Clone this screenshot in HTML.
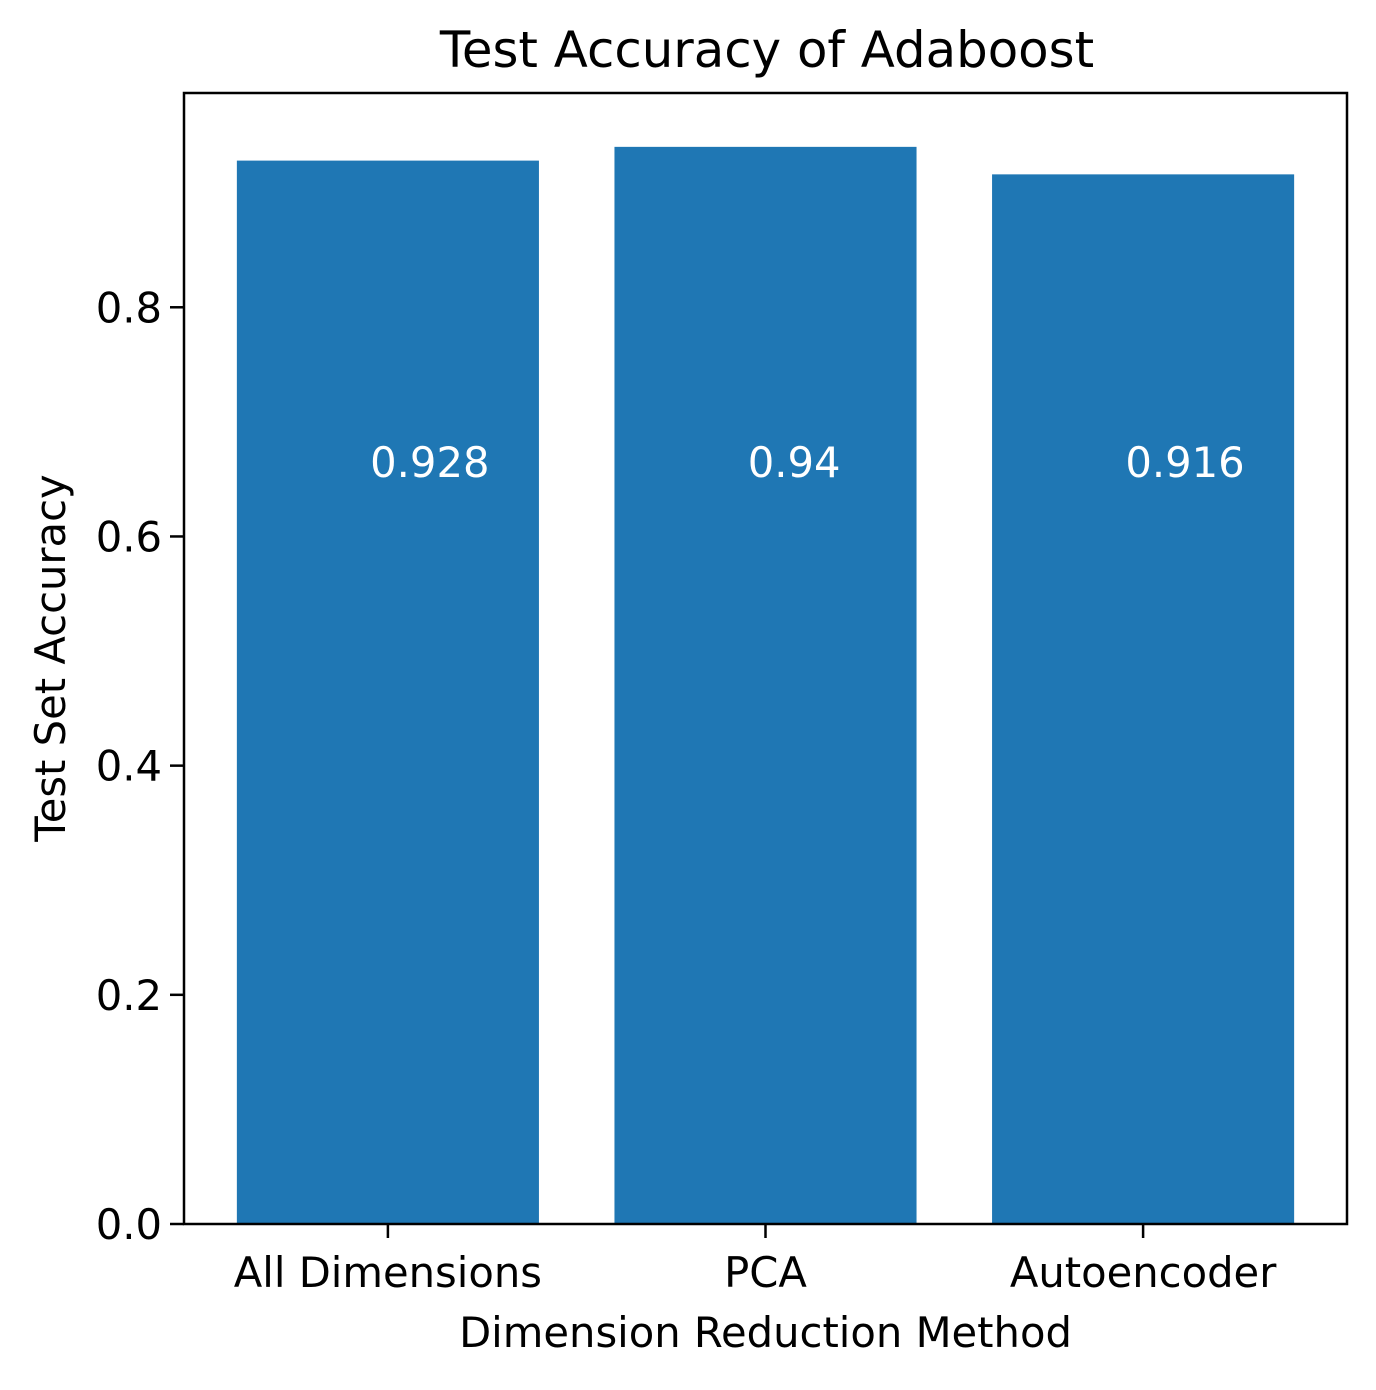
<!DOCTYPE html>
<html><head><meta charset="utf-8"><style>
html,body{margin:0;padding:0;background:#fff;}
svg text{font-family:"DejaVu Sans","Liberation Sans",sans-serif;}
</style></head><body>
<svg id="chart" width="1376" height="1385" viewBox="0 0 1376 1385" xmlns="http://www.w3.org/2000/svg">
<rect width="1376" height="1385" fill="#fff"/>
<g id="bars"></g><g id="labels"></g><g id="axes"></g>
<text x="767" y="67" font-size="49.8" text-anchor="middle" fill="#000">Test Accuracy of Adaboost</text>
<text x="765.5" y="1347" font-size="41.7" text-anchor="middle" fill="#000">Dimension Reduction Method</text>
<text x="0" y="0" font-size="41.7" text-anchor="middle" fill="#000" transform="translate(65,658) rotate(-90)">Test Set Accuracy</text>
</svg>
<script>
const categories = ["All Dimensions", "PCA", "Autoencoder"];
const values = [0.928, 0.94, 0.916];
const valueLabels = ["0.928", "0.94", "0.916"];
const labelY = [0.665, 0.665, 0.665];
const yTicks = [0, 0.2, 0.4, 0.6, 0.8];
const yTickLabels = ["0.0", "0.2", "0.4", "0.6", "0.8"];

const L=184,R=1347,T=93,B=1224;
const xMin=-0.54,xMax=categories.length-1+0.54;
const yMax=Math.max(...values)*1.05;
const xs=v=>L+(v-xMin)/(xMax-xMin)*(R-L);
const ys=v=>B-v/yMax*(B-T);
const NS="http://www.w3.org/2000/svg";
function mk(tag,attrs,parent,text){const e=document.createElementNS(NS,tag);for(const k in attrs)e.setAttribute(k,attrs[k]);if(text!==undefined)e.textContent=text;parent.appendChild(e);return e;}
const gb=document.getElementById('bars'),gl=document.getElementById('labels'),ga=document.getElementById('axes');
categories.forEach((c,i)=>{
  const x0=xs(i-0.4),x1=xs(i+0.4);
  const r=mk('rect',{x:x0,y:ys(values[i]),width:x1-x0,height:B-ys(values[i]),fill:'#1f77b4'},gb);
  
  
  const t=mk('text',{x:xs(i-0.047),y:ys(labelY[i])+15,'font-size':41.7,'text-anchor':'start',fill:'#fff'},gl,valueLabels[i]);
  
  
  const tk=mk('line',{x1:xs(i),x2:xs(i),y1:B,y2:B+14,stroke:'#000','stroke-width':2.5},ga);
  
  
  const tl=mk('text',{x:xs(i),y:1287,'font-size':41.7,'text-anchor':'middle',fill:'#000'},ga,c);
  
  
});
yTicks.forEach((v,i)=>{
  const tk=mk('line',{x1:L-14,x2:L,y1:ys(v),y2:ys(v),stroke:'#000','stroke-width':2.5},ga);
  
  
  const tl=mk('text',{x:L-22,y:ys(v)+15,'font-size':41.7,'text-anchor':'end',fill:'#000'},ga,yTickLabels[i]);
  
  
});
const fr=mk('rect',{x:L,y:T,width:R-L,height:B-T,fill:'none',stroke:'#000','stroke-width':2.5},ga);


</script>
</body></html>
